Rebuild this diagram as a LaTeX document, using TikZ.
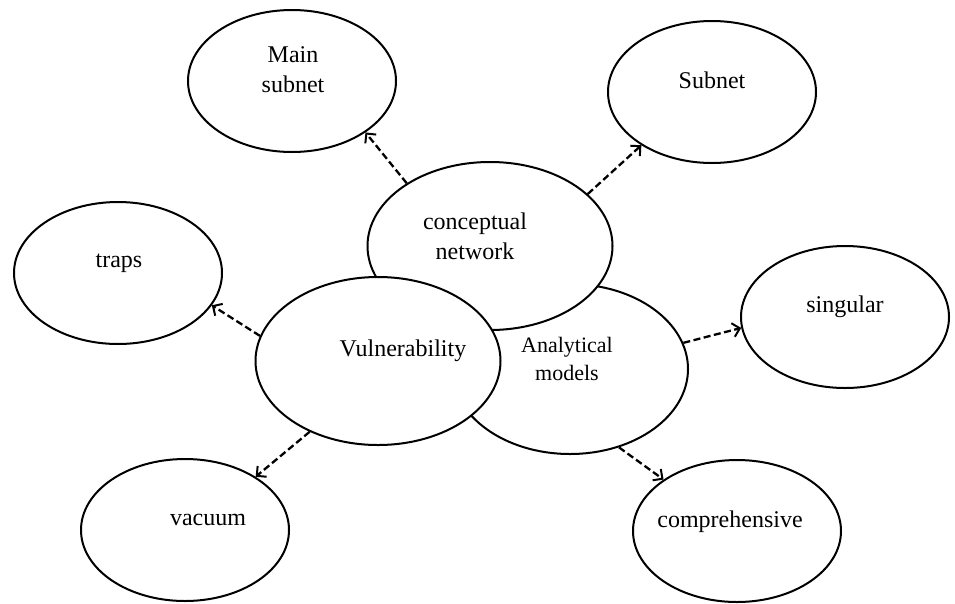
\documentclass[tikz,border=0pt]{standalone}
\usepackage{fontspec}
\setmainfont{Liberation Serif}
\usetikzlibrary{shapes.geometric, arrows.meta}

\tikzset{
  bubble/.style={ellipse, draw, line width=2pt, fill=white, inner sep=0pt,
    minimum width=208pt, minimum height=142pt},
  bigbubble/.style={bubble, minimum width=245pt, minimum height=168pt},
  lbl/.style={align=center, font=\fontsize{24}{30}\selectfont},
  link/.style={-{Straight Barb[length=7pt, width=14pt, line width=2pt]},
    line width=2.3pt, dash pattern=on 7pt off 3.5pt}
}

\begin{document}
\begin{tikzpicture}[x=1pt, y=1pt]

  \useasboundingbox (0,0) rectangle (955,-603);

  % Centre cluster (back to front)
  \node[bigbubble, minimum width=236pt, minimum height=170pt] (models) at (570,-369) {};
  \node[bigbubble] (concept) at (490,-246) {};
  \node[bigbubble] (vuln) at (378,-361) {};

  % Outer bubbles
  \node[bubble] (mainsub) at (292,-81) {};
  \node[bubble] (subnet) at (712,-92) {};
  \node[bubble] (traps) at (118,-273) {};
  \node[bubble] (singular) at (845,-317) {};
  \node[bubble] (vacuum) at (185,-530) {};
  \node[bubble] (compr) at (737,-531) {};

  % Labels
  \node[lbl, font=\fontsize{22}{28}\selectfont] (models-t)
    at ([shift={(-3,10)}]models.center) {Analytical\\models};
  \node[lbl] (concept-t) at ([shift={(-15,10)}]concept.center) {conceptual\\network};
  \node[lbl] (vuln-t) at ([shift={(25,10)}]vuln.center) {Vulnerability};
  \node[lbl] (mainsub-t) at ([shift={(1,11)}]mainsub.center) {Main\\subnet};
  \node[lbl] (subnet-t) at ([shift={(0,12)}]subnet.center) {Subnet};
  \node[lbl] (traps-t) at ([shift={(1,10)}]traps.center) {traps};
  \node[lbl] (singular-t) at ([shift={(0,10)}]singular.center) {singular};
  \node[lbl] (vacuum-t) at ([shift={(23,10)}]vacuum.center) {vacuum};
  \node[lbl] (compr-t) at ([shift={(-7,9)}]compr.center) {comprehensive};

  % Links
  \draw[link] (concept.143) -- (mainsub.-35);
  \draw[link] (concept.28) -- (subnet.-143);
  \draw[link] (vuln.168) -- (traps.-19);
  \draw[link] (vuln.226) -- (vacuum.37);
  \draw[link] (models.13) -- (singular.186);
  \draw[link] (models.-58) -- (compr.145);

\end{tikzpicture}
\end{document}
